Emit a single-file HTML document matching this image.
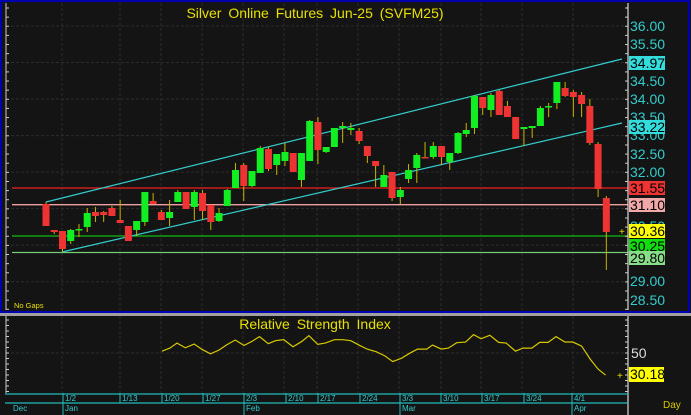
<!DOCTYPE html>
<html><head><meta charset="utf-8"><style>
html,body{margin:0;padding:0;background:#141414;}
svg{display:block;font-family:"Liberation Sans",sans-serif;}
</style></head><body>
<svg id="s" width="691" height="415" xmlns="http://www.w3.org/2000/svg">
<rect x="0" y="0" width="691" height="415" fill="#141414"/>
<rect x="0" y="313" width="691" height="3" fill="#a0a0a0"/>
<rect x="1" y="1" width="688" height="311" fill="none" stroke="#0000b0" stroke-width="2"/>
<g id="grid" stroke="#2c2c2c" stroke-width="1" stroke-dasharray="3,2"></g>
<g id="lines"></g>
<g id="candles"></g>
<line x1="628" y1="3" x2="628" y2="310" stroke="#ffffff" stroke-width="1"/>
<line x1="6" y1="3" x2="6" y2="310" stroke="#cccccc" stroke-width="1"/>
<line x1="628" y1="316" x2="628" y2="415" stroke="#ffffff" stroke-width="1"/>
<line x1="6" y1="316" x2="6" y2="393" stroke="#cccccc" stroke-width="1"/>
<g id="ticks" stroke="#cccccc" stroke-width="1"></g>
<text x="315" y="18" fill="#e8e000" font-size="14" text-anchor="middle" word-spacing="3">Silver Online Futures Jun-25 (SVFM25)</text>
<text x="14" y="308" fill="#e8e000" font-size="7.5">No Gaps</text>
<g font-size="14" fill="#33cccc">
<text x="630" y="31">36.00</text><text x="630" y="49">35.50</text>
<text x="630" y="86">34.50</text><text x="630" y="104">34.00</text>
<text x="630" y="122">33.50</text><text x="630" y="140">33.00</text>
<text x="630" y="159">32.50</text><text x="630" y="177">32.00</text>
<text x="630" y="286">29.00</text><text x="630" y="305">28.50</text>
<text x="630" y="231">30.50</text>
</g>
<g font-size="14" fill="#000">
<rect x="629" y="56" width="36" height="14" fill="#33dddd"/><text x="630" y="68">34.97</text>
<rect x="629" y="120" width="36" height="14" fill="#33dddd"/><text x="630" y="132">33.22</text>
<rect x="629" y="181" width="36" height="14" fill="#ee3333"/><text x="630" y="193">31.55</text>
<rect x="629" y="198" width="36" height="14" fill="#f0a8a8"/><text x="630" y="210">31.10</text>
<rect x="629" y="224" width="36" height="14" fill="#ffff00"/><text x="630" y="236">30.36</text>
<rect x="629" y="239" width="36" height="14" fill="#11dd11"/><text x="630" y="251">30.25</text>
<rect x="629" y="251" width="36" height="14" fill="#88dd88"/><text x="630" y="263">29.80</text>
</g>
<text x="619" y="235" fill="#e8e000" font-size="10">+</text>
<text x="315" y="329" fill="#e8e000" font-size="14" text-anchor="middle" word-spacing="3">Relative Strength Index</text>
<text x="631" y="358" fill="#dddddd" font-size="14">50</text>
<rect x="629" y="367" width="35" height="15" fill="#ffff00"/><text x="630" y="379" fill="#000" font-size="14">30.18</text>
<text x="617" y="379" fill="#e8e000" font-size="10">+</text>
<polyline fill="none" stroke="#d8c800" stroke-width="1.2" transform="translate(0,305) scale(0.4413,0.3367)" vector-effect="non-scaling-stroke" points="367,137 385,128 401,113 420,127 440,116 458,132 477,145 496,134 514,118 533,104 553,120 571,108 588,94 608,115 624,106 643,103 664,124 683,109 700,91 720,117 737,113 758,103 777,103 795,106 815,120 832,131 853,139 872,151 890,168 910,158 930,142 946,131 967,131 980,119 1000,131 1016,128 1035,112 1055,110 1073,88 1090,100 1110,90 1130,111 1147,113 1168,137 1185,128 1205,128 1223,111 1242,111 1260,94 1280,110 1298,110 1318,122 1337,160 1355,190 1372,208"/>
<g stroke="#22bbbb" stroke-width="1.2">
<line x1="5" y1="394" x2="628" y2="394"/><line x1="5" y1="403" x2="628" y2="403"/>
</g>
<g id="dates" font-size="8" fill="#33cccc"></g>
<text x="663" y="408" fill="#d8c800" font-size="10">Day</text>
<script>
const NS="http://www.w3.org/2000/svg";
function el(p,t,a){const e=document.createElementNS(NS,t);for(const k in a)e.setAttribute(k,a[k]);document.getElementById(p).appendChild(e);return e;}
// grid
const vx=[62,120,161,202,243,284,317,358,399,441,481,522,573];
vx.forEach(x=>{el('grid','line',{x1:x,y1:3,x2:x,y2:310});el('grid','line',{x1:x,y1:316,x2:x,y2:393});});
for(let p=36;p>=29;p--){const y=26+(36-p)*36.53;el('grid','line',{x1:6,y1:y,x2:628,y2:y});}
el('grid','line',{x1:6,y1:353,x2:628,y2:353});
// ticks
for(let y=8;y<310;y+=9.13){el('ticks','line',{x1:6,y1:y,x2:9,y2:y});el('ticks','line',{x1:625,y1:y,x2:628,y2:y});}
for(let y=320;y<393;y+=5.5){el('ticks','line',{x1:6,y1:y,x2:9,y2:y});el('ticks','line',{x1:625,y1:y,x2:628,y2:y});}
// hlines
[[188,'#ee2222'],[204.7,'#f0a0a0'],[236,'#11bb11'],[252.5,'#77cc77']].forEach(a=>el('lines','line',{x1:12,y1:a[0],x2:628,y2:a[0],stroke:a[1],'stroke-width':1.3}));
el('lines','line',{x1:46,y1:202,x2:622,y2:59,stroke:'#33cccc','stroke-width':1.2});
el('lines','line',{x1:62,y1:252,x2:622,y2:123,stroke:'#33cccc','stroke-width':1.2});
// candles: [open y, close y, high y, low y, green?]
const C=[[204,226,202,226,0],[230,232,230,234,0],[231,249,231,252,0],[241,230,229,244,1],[230,229,224,237,1],[227,213,208,232,1],[212,216,207,222,0],[212,215,211,222,0],[208,216,206,216,0],[220,223,200,223,0],[226,241,226,241,0],[230,221,221,236,1],[222,192,192,226,1],[201,204,193,204,0],[212,220,210,220,0],[218,212,200,226,1],[202,192,190,202,1],[192,209,192,209,0],[207,192,190,220,1],[193,211,190,220,0],[205,222,204,230,0],[221,213,208,222,1],[206,190,189,206,1],[188,170,163,188,1],[165,186,163,201,0],[186,171,171,187,1],[173,148,146,173,1],[149,169,147,171,0],[165,154,154,175,1],[161,152,143,166,1],[153,172,153,172,0],[180,153,153,187,1],[161,121,120,161,1],[122,150,117,164,0],[152,147,147,153,1],[147,128,128,147,1],[128,126,122,143,1],[130,128,123,135,1],[131,141,128,144,0],[146,156,146,163,0],[161,166,161,187,0],[187,175,165,187,1],[172,198,172,201,0],[197,190,187,204,1],[179,170,164,183,1],[168,155,153,183,1],[157,158,142,158,0],[157,146,142,159,1],[146,157,146,165,0],[162,153,153,170,1],[153,133,132,154,1],[134,130,123,137,1],[128,96,95,134,1],[97,108,97,115,0],[110,95,93,117,1],[91,115,90,115,0],[106,117,101,117,0],[117,139,117,139,0],[129,127,127,146,1],[128,126,126,138,1],[126,108,106,126,1],[107,106,103,117,1],[103,82,82,109,1],[88,96,82,97,0],[92,97,90,117,0],[95,104,92,117,0],[106,143,99,145,0],[144,189,142,197,0],[198,232,196,270,0]];
C.forEach((c,i)=>{const x=46+8.24*i;
el('candles','line',{x1:x,y1:c[2],x2:x,y2:c[3],stroke:'#c8b400','stroke-width':1});
const t=Math.min(c[0],c[1]),h=Math.max(1.5,Math.abs(c[0]-c[1]));
el('candles','rect',{x:x-3.5,y:t,width:7,height:h,fill:c[4]?'#11ee22':'#ee3333'});});
// dates
const D=[[63,'1/2'],[120,'1/13'],[162,'1/20'],[203,'1/27'],[244,'2/3'],[286,'2/10'],[318,'2/17'],[360,'2/24'],[400,'3/3'],[441,'3/10'],[482,'3/17'],[524,'3/24'],[572,'4/1']];
D.forEach(d=>{el('dates','line',{x1:d[0],y1:393,x2:d[0],y2:403,stroke:'#22bbbb','stroke-width':1});const t=el('dates','text',{x:d[0]+2,y:401});t.textContent=d[1];});
[[63,'Jan'],[244,'Feb'],[400,'Mar'],[572,'Apr']].forEach(d=>{el('dates','line',{x1:d[0],y1:403,x2:d[0],y2:415,stroke:'#22bbbb','stroke-width':1});});
</script>
<g font-size="8" fill="#33cccc"><text x="13" y="411">Dec</text><text x="65" y="411">Jan</text><text x="246" y="411">Feb</text><text x="402" y="411">Mar</text><text x="574" y="411">Apr</text></g>
</svg>
</body></html>
